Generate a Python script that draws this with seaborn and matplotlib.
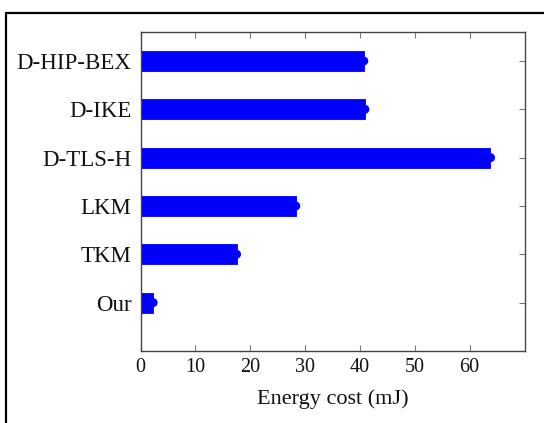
import matplotlib
matplotlib.use("Agg")
import matplotlib.pyplot as plt
import seaborn as sns
import pandas as pd
from matplotlib.patches import Rectangle

categories = ["D-HIP-BEX", "D-IKE", "D-TLS-H", "LKM", "TKM", "Our"]
energy_mj = [40.7, 40.9, 63.8, 28.3, 17.5, 2.3]
xticks = [0, 10, 20, 30, 40, 50, 60]

sns.set_theme(style="white")
plt.rcParams['font.family'] = ['Liberation Serif', 'DejaVu Serif']

df = pd.DataFrame({"method": categories, "energy": energy_mj})

fig = plt.figure(figsize=(5.44, 4.23), dpi=100)
ax = fig.add_axes([140.5 / 544, 1 - 351 / 423, (524.5 - 140.5) / 544, (351 - 32.3) / 423])

sns.barplot(data=df, x="energy", y="method", order=categories, orient="h",
            color="#0000ff", saturation=1, width=0.41, ax=ax, edgecolor="#0000ff",
            linewidth=0.6)
sns.scatterplot(data=df, x="energy", y="method", color="#0000ff", s=42,
                edgecolor="none", ax=ax, zorder=5, legend=False)

ax.set_xlim(0, 70)
ax.set_ylim(6.0, -0.593)
ax.set_xticks(xticks)
ax.set_xticklabels([str(t) for t in xticks], fontsize=14.5)
ax.set_ylabel("")
ax.set_xlabel("Energy cost (mJ)", fontsize=16, labelpad=9, color="#111111")
for lab in ax.get_yticklabels():
    lab.set_fontsize(16.5)
    lab.set_color("#111111")
for lab in ax.get_xticklabels():
    lab.set_color("#111111")

ax.tick_params(axis="x", direction="in", length=4.5, width=0.8, color="#777777",
               top=True, bottom=True, pad=5)
ax.tick_params(axis="y", direction="in", length=4.5, width=0.8, color="#777777",
               left=True, right=True, pad=6.5)

for side in ["left", "right", "top", "bottom"]:
    ax.spines[side].set_visible(True)
    ax.spines[side].set_linewidth(1.0)
    ax.spines[side].set_color("#444444")

frame = Rectangle((6 / 544, -0.2), 1.5, 0.2 + (1 - 13.5 / 423), transform=fig.transFigure,
                  fill=False, edgecolor="black", linewidth=1.6, clip_on=False)
fig.patches.append(frame)

fig.savefig("out.png", dpi=100)
